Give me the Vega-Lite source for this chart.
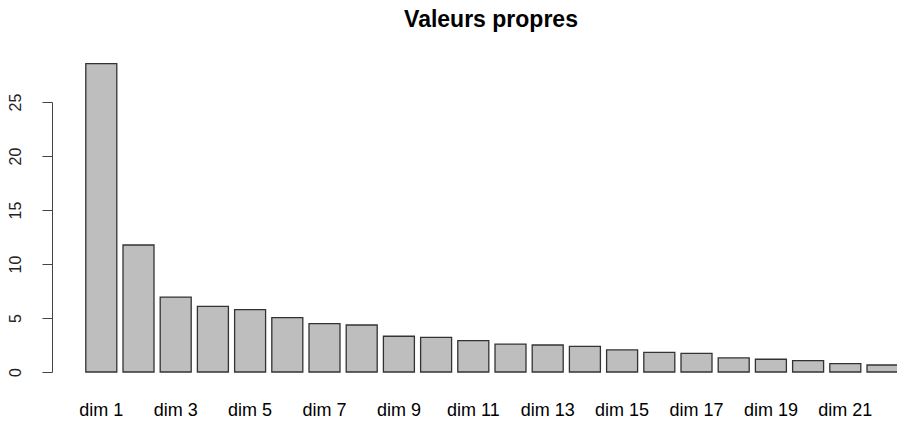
{
  "$schema": "https://vega.github.io/schema/vega-lite/v6.json",
  "autosize": {"type": "none"},
  "padding": {"left": 52, "top": 102, "right": 0, "bottom": 49},
  "width": 846,
  "height": 270,
  "background": "white",
  "config": {"view": {"stroke": null}, "font": "Liberation Sans"},
  "title": {
    "text": "Valeurs propres",
    "font": "Liberation Sans",
    "fontSize": 23,
    "fontWeight": "bold",
    "color": "black",
    "anchor": "middle",
    "frame": "group",
    "baseline": "alphabetic",
    "offset": 13,
    "dx": 16
  },
  "data": {
    "values": [
      {"dim": "dim 1", "valeur": 28.56},
      {"dim": "dim 2", "valeur": 11.76},
      {"dim": "dim 3", "valeur": 6.94},
      {"dim": "dim 4", "valeur": 6.08},
      {"dim": "dim 5", "valeur": 5.78},
      {"dim": "dim 6", "valeur": 5.04},
      {"dim": "dim 7", "valeur": 4.48},
      {"dim": "dim 8", "valeur": 4.35},
      {"dim": "dim 9", "valeur": 3.31},
      {"dim": "dim 10", "valeur": 3.21},
      {"dim": "dim 11", "valeur": 2.91},
      {"dim": "dim 12", "valeur": 2.59},
      {"dim": "dim 13", "valeur": 2.5},
      {"dim": "dim 14", "valeur": 2.38},
      {"dim": "dim 15", "valeur": 2.04},
      {"dim": "dim 16", "valeur": 1.82},
      {"dim": "dim 17", "valeur": 1.73},
      {"dim": "dim 18", "valeur": 1.3},
      {"dim": "dim 19", "valeur": 1.18},
      {"dim": "dim 20", "valeur": 1.06},
      {"dim": "dim 21", "valeur": 0.78},
      {"dim": "dim 22", "valeur": 0.65}
    ]
  },
  "mark": {"type": "bar", "fill": "#bebebe", "stroke": "#333333", "strokeWidth": 1.3, "clip": false},
  "encoding": {
    "x": {
      "field": "dim",
      "type": "nominal",
      "sort": null,
      "scale": {"paddingInner": 0.1667, "paddingOuter": 0.4543, "align": 1},
      "axis": {
        "title": null,
        "domain": false,
        "ticks": false,
        "tickSize": 0,
        "labelAngle": 0,
        "labelPadding": 43,
        "labelBaseline": "alphabetic",
        "labelFontSize": 18,
        "labelColor": "black",
        "labelFont": "Liberation Sans",
        "labelOverlap": false,
        "labelExpr": "parseInt(split(datum.value, ' ')[1]) % 2 == 1 ? datum.value : ''"
      }
    },
    "y": {
      "field": "valeur",
      "type": "quantitative",
      "scale": {"domain": [0, 25], "nice": false, "zero": true},
      "axis": {
        "title": null,
        "grid": false,
        "values": [0, 5, 10, 15, 20, 25],
        "domainColor": "#444444",
        "tickColor": "#444444",
        "tickSize": 10,
        "labelAngle": -90,
        "labelAlign": "center",
        "labelBaseline": "alphabetic",
        "labelPadding": 22,
        "labelFontSize": 16,
        "labelColor": "#222222",
        "labelFont": "Liberation Sans"
      }
    }
  }
}
